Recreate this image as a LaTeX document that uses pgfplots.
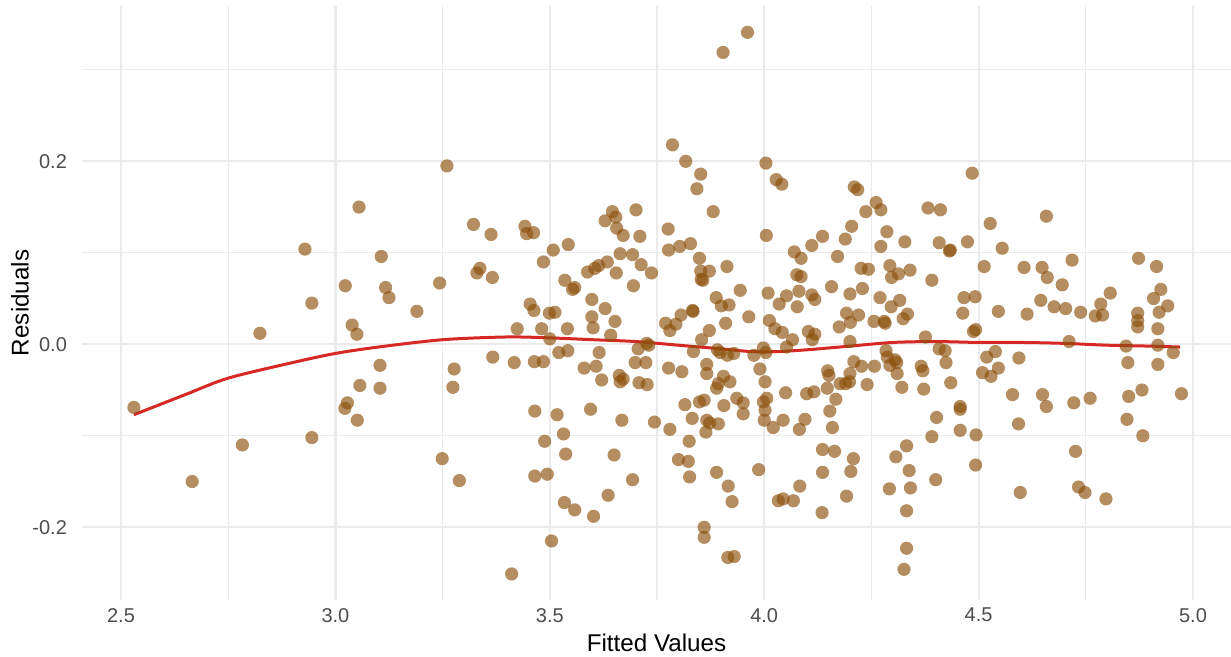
\documentclass[border=0pt]{standalone}
\usepackage{pgfplots}
\pgfplotsset{compat=1.18}
\usepackage{pgfplotstable}
\usepackage{fontspec}
\setmainfont{Liberation Sans}
\definecolor{ptcol}{RGB}{140,80,10}
\definecolor{loesscol}{RGB}{214,40,36}
\definecolor{gridcol}{RGB}{235,235,235}
\definecolor{tickcol}{RGB}{77,77,77}

\pgfplotstableread{
x y
2.530 -0.069
2.666 -0.150
2.783 -0.110
2.824 0.012
3.260 0.195
3.055 0.150
2.929 0.104
3.322 0.131
3.363 0.120
3.107 0.096
3.023 0.064
3.117 0.062
3.125 0.051
2.945 0.045
3.243 0.067
3.190 0.036
3.337 0.083
3.330 0.078
3.366 0.073
3.039 0.021
3.050 0.011
3.367 -0.014
3.104 -0.023
3.277 -0.027
3.057 -0.045
3.104 -0.048
3.274 -0.047
3.028 -0.064
3.022 -0.070
3.051 -0.083
2.945 -0.102
3.249 -0.125
3.289 -0.149
3.442 0.129
3.446 0.121
3.462 0.122
3.543 0.109
3.508 0.103
3.485 0.090
3.646 0.145
3.654 0.139
3.629 0.135
3.701 0.147
3.656 0.127
3.671 0.119
3.710 0.118
3.664 0.099
3.693 0.098
3.713 0.087
3.737 0.078
3.634 0.090
3.614 0.086
3.605 0.083
3.588 0.079
3.655 0.078
3.695 0.064
3.535 0.070
3.553 0.060
3.558 0.062
3.598 0.049
3.629 0.039
3.454 0.044
3.463 0.037
3.499 0.034
3.512 0.035
3.598 0.030
3.652 0.025
3.601 0.018
3.424 0.017
3.481 0.017
3.541 0.017
3.500 0.006
3.642 0.010
3.726 0.001
3.731 -0.001
3.706 -0.005
3.521 -0.009
3.542 -0.007
3.615 -0.009
3.417 -0.020
3.464 -0.019
3.485 -0.019
3.580 -0.026
3.608 -0.024
3.699 -0.020
3.724 -0.020
3.662 -0.034
3.671 -0.038
3.664 -0.041
3.621 -0.039
3.708 -0.042
3.727 -0.044
3.465 -0.073
3.517 -0.077
3.595 -0.071
3.668 -0.083
3.744 -0.085
3.532 -0.098
3.488 -0.106
3.537 -0.120
3.650 -0.121
3.465 -0.144
3.494 -0.142
3.693 -0.148
3.636 -0.165
3.534 -0.173
3.558 -0.181
3.602 -0.188
3.504 -0.215
3.411 -0.251
3.961 0.341
3.904 0.319
3.786 0.218
3.817 0.200
3.852 0.186
3.843 0.170
3.881 0.145
4.004 0.198
4.028 0.180
4.041 0.175
4.005 0.119
3.776 0.126
3.777 0.103
3.803 0.107
3.828 0.110
3.849 0.094
3.913 0.085
3.852 0.080
3.872 0.080
3.853 0.071
3.857 0.070
3.944 0.059
3.888 0.051
3.900 0.042
3.918 0.043
3.833 0.037
3.834 0.036
3.806 0.032
3.770 0.023
3.794 0.022
3.780 0.015
3.910 0.023
3.964 0.030
3.872 0.015
3.854 0.005
4.070 0.101
4.086 0.094
4.009 0.056
4.035 0.044
4.052 0.053
4.076 0.076
4.086 0.074
4.081 0.058
4.077 0.041
4.012 0.026
4.025 0.017
4.042 0.013
4.066 0.005
3.835 -0.008
3.891 -0.006
3.897 -0.009
3.914 -0.012
3.929 -0.010
3.976 -0.012
3.998 -0.004
4.004 -0.009
4.052 -0.003
3.777 -0.026
3.808 -0.030
3.866 -0.022
3.866 -0.032
3.905 -0.035
3.920 -0.041
3.893 -0.043
3.889 -0.048
3.990 -0.027
4.002 -0.041
3.815 -0.066
3.849 -0.063
3.860 -0.061
3.906 -0.067
3.936 -0.059
3.951 -0.064
3.951 -0.076
3.998 -0.063
4.006 -0.059
4.002 -0.072
4.000 -0.083
4.021 -0.091
4.044 -0.083
4.050 -0.053
4.082 -0.093
3.780 -0.093
3.832 -0.081
3.866 -0.083
3.873 -0.086
3.864 -0.096
3.893 -0.087
3.825 -0.106
3.800 -0.126
3.823 -0.128
3.826 -0.145
3.889 -0.140
3.916 -0.155
3.925 -0.172
3.987 -0.137
4.033 -0.171
4.044 -0.169
4.068 -0.171
4.083 -0.155
3.860 -0.200
3.860 -0.211
3.915 -0.233
3.930 -0.232
4.210 0.172
4.218 0.169
4.261 0.155
4.272 0.147
4.237 0.145
4.382 0.149
4.411 0.147
4.204 0.129
4.286 0.123
4.136 0.118
4.189 0.115
4.111 0.108
4.328 0.112
4.272 0.107
4.408 0.111
4.432 0.102
4.434 0.103
4.171 0.096
4.226 0.083
4.243 0.082
4.293 0.086
4.340 0.081
4.297 0.073
4.313 0.077
4.391 0.070
4.157 0.063
4.200 0.055
4.229 0.061
4.270 0.051
4.316 0.048
4.296 0.041
4.111 0.054
4.118 0.049
4.192 0.034
4.220 0.032
4.201 0.024
4.256 0.025
4.280 0.025
4.282 0.023
4.324 0.028
4.334 0.033
4.175 0.019
4.103 0.014
4.118 0.011
4.112 0.005
4.200 0.003
4.376 0.008
4.284 -0.007
4.287 -0.014
4.305 -0.017
4.309 -0.020
4.293 -0.023
4.310 -0.032
4.321 -0.047
4.257 -0.024
4.227 -0.024
4.209 -0.019
4.200 -0.032
4.148 -0.029
4.151 -0.034
4.177 -0.043
4.190 -0.043
4.199 -0.041
4.147 -0.048
4.240 -0.044
4.099 -0.054
4.116 -0.052
4.167 -0.060
4.153 -0.073
4.095 -0.082
4.159 -0.091
4.366 -0.024
4.370 -0.029
4.372 -0.049
4.408 -0.005
4.422 -0.007
4.424 -0.020
4.435 -0.042
4.402 -0.080
4.391 -0.101
4.136 -0.115
4.164 -0.117
4.208 -0.125
4.136 -0.140
4.202 -0.139
4.192 -0.166
4.135 -0.184
4.332 -0.111
4.307 -0.123
4.338 -0.138
4.292 -0.158
4.341 -0.157
4.332 -0.182
4.400 -0.148
4.332 -0.223
4.326 -0.246
4.485 0.187
4.658 0.140
4.527 0.132
4.474 0.112
4.555 0.105
4.513 0.085
4.606 0.084
4.648 0.084
4.718 0.092
4.660 0.073
4.695 0.065
4.466 0.051
4.492 0.052
4.645 0.048
4.676 0.041
4.703 0.039
4.738 0.035
4.463 0.034
4.546 0.036
4.613 0.033
4.488 0.014
4.493 0.016
4.711 0.003
4.519 -0.014
4.539 -0.008
4.594 -0.015
4.509 -0.031
4.529 -0.035
4.546 -0.026
4.579 -0.055
4.649 -0.055
4.658 -0.068
4.722 -0.064
4.457 -0.068
4.457 -0.071
4.457 -0.094
4.494 -0.099
4.593 -0.087
4.493 -0.132
4.597 -0.162
4.726 -0.117
4.733 -0.156
4.748 -0.162
4.873 0.094
4.915 0.085
4.807 0.056
4.925 0.060
4.908 0.050
4.785 0.044
4.941 0.042
4.772 0.031
4.789 0.032
4.871 0.034
4.871 0.026
4.871 0.019
4.921 0.035
4.918 0.017
4.844 -0.002
4.918 -0.001
4.954 -0.009
4.848 -0.020
4.918 -0.022
4.760 -0.059
4.850 -0.057
4.881 -0.050
4.973 -0.054
4.846 -0.082
4.883 -0.100
4.797 -0.169
}\resid

\pgfplotstableread{
x y
2.53 -0.077
2.65 -0.055
2.75 -0.037
2.90 -0.020
3.00 -0.010
3.10 -0.003
3.25 0.005
3.40 0.008
3.50 0.007
3.60 0.005
3.70 0.003
3.80 -0.001
3.90 -0.005
3.97 -0.008
4.03 -0.008
4.10 -0.006
4.20 -0.002
4.30 0.002
4.40 0.003
4.50 0.002
4.60 0.002
4.70 0.001
4.80 -0.001
4.90 -0.002
4.97 -0.003
}\loess

\begin{document}
\begin{tikzpicture}
\begin{axis}[
  at={(0pt,0pt)}, anchor=south west,
  scale only axis, width=574.5pt, height=297.1pt,
  xmin=2.409, xmax=5.0886, ymin=-0.2795, ymax=0.3700,
  axis line style={draw=none},
  tick style={draw=none},
  xtick={2.5,3.0,3.5,4.0,4.5,5.0},
  xticklabels={2.5,3.0,3.5,4.0,4.5,5.0},
  minor xtick={2.75,3.25,3.75,4.25,4.75},
  ytick={-0.2,0,0.2},
  yticklabels={-0.2,0.0,0.2},
  minor ytick={-0.1,0.1,0.3},
  grid=both,
  major grid style={draw=gridcol, line width=1.1pt},
  minor grid style={draw=gridcol, line width=0.6pt},
  ticklabel style={font=\fontsize{10}{12}\selectfont, text=tickcol},
  xticklabel style={yshift=-0.5pt},
  yticklabel style={xshift=-4pt},
  xlabel={Fitted Values},
  ylabel={Residuals},
  every axis x label/.style={at={(axis description cs:0.5,-0.0724)}, anchor=center, font=\fontsize{12.1}{14}\selectfont, text=black},
  every axis y label/.style={at={(axis description cs:-0.054,0.5)}, anchor=center, rotate=90, font=\fontsize{12.1}{14}\selectfont, text=black},
]
\addplot[only marks, mark=*, mark size=3.3pt, color=ptcol,
  mark options={draw opacity=0, fill=ptcol, fill opacity=0.65, line width=0pt}] table[x=x,y=y] {\resid};
\addplot[loesscol, line width=1.5pt, smooth, no marks] table[x=x,y=y] {\loess};
\end{axis}
\pgfresetboundingbox
\path[use as bounding box] (-41pt,-28.5pt) rectangle (574.5pt,300pt);
\end{tikzpicture}
\end{document}
